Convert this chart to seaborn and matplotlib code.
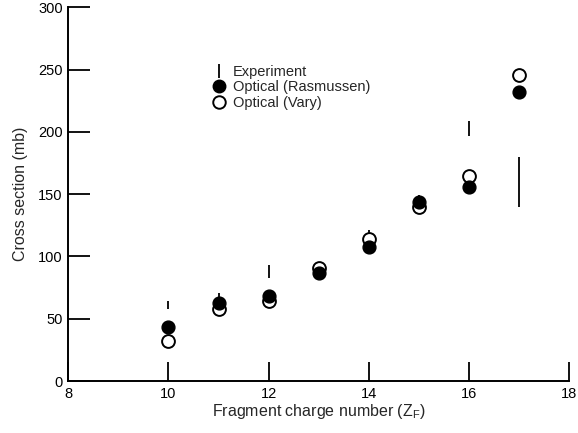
import numpy as np
import matplotlib
matplotlib.use("Agg")
import matplotlib.pyplot as plt
from matplotlib.lines import Line2D
import seaborn as sns
import pandas as pd

# fragment charge numbers
z_frag = [10, 11, 12, 13, 14, 15, 16, 17]

# experiment: centre value and half-width of the vertical bars
exp_val = [61, 65, 88, 89, 114, 144, 203, 160]
exp_err = [3, 6, 5, 3, 7, 5, 6, 20]

# optical model calculations
rasmussen = [43, 63, 68, 87, 108, 144, 156, 232]
vary = [32, 58, 64, 91, 114, 140, 165, 246]

sns.set_style("ticks")
plt.rcParams["font.family"] = ["Liberation Sans", "DejaVu Sans"]

df = pd.DataFrame({"z": z_frag, "rasmussen": rasmussen, "vary": vary})

fig = plt.figure(figsize=(5.78, 4.33), dpi=100)
ax = fig.add_axes([0.118, 0.12, 0.867, 0.863])

# experiment bars
ax.errorbar(z_frag, exp_val, yerr=exp_err, fmt="none", ecolor="black",
            elinewidth=1.3, capsize=0, zorder=1)

sns.scatterplot(data=df, x="z", y="vary", ax=ax, marker="o", s=85,
                facecolor="white", edgecolor="black", linewidth=1.4, zorder=2)
sns.scatterplot(data=df, x="z", y="rasmussen", ax=ax, marker="o", s=85,
                color="black", edgecolor="black", linewidth=1.0, zorder=3)

ax.set_xlim(8, 18)
ax.set_ylim(0, 300)
ax.set_xticks([8, 10, 12, 14, 16, 18])
ax.set_yticks(np.arange(0, 301, 50))
ax.tick_params(axis="both", direction="in", length=14, width=1.3,
               labelsize=10.5, colors="black", pad=4)
ax.tick_params(axis="y", length=16)
sns.despine(ax=ax)
for s in ["left", "bottom"]:
    ax.spines[s].set_linewidth(1.4)
    ax.spines[s].set_color("black")

ax.set_xlabel(r"Fragment charge number (Z$_\mathregular{F}$)", fontsize=11.5, labelpad=1)
ax.set_ylabel("Cross section (mb)", fontsize=11.5, labelpad=7)

handles = [
    Line2D([], [], linestyle="none", marker="|", markersize=10, markeredgewidth=1.3, color="black"),
    Line2D([], [], linestyle="none", marker="o", markersize=9, color="black"),
    Line2D([], [], linestyle="none", marker="o", markersize=9, markerfacecolor="white",
           markeredgecolor="black", markeredgewidth=1.4),
]
labels = ["Experiment", "Optical (Rasmussen)", "Optical (Vary)"]
ax.legend(handles, labels, loc="upper left", bbox_to_anchor=(0.274, 0.862),
          frameon=False, fontsize=10.5, handlelength=1.0, handletextpad=0.5,
          labelspacing=0.1, borderaxespad=0)

fig.savefig("out.png", dpi=100)
